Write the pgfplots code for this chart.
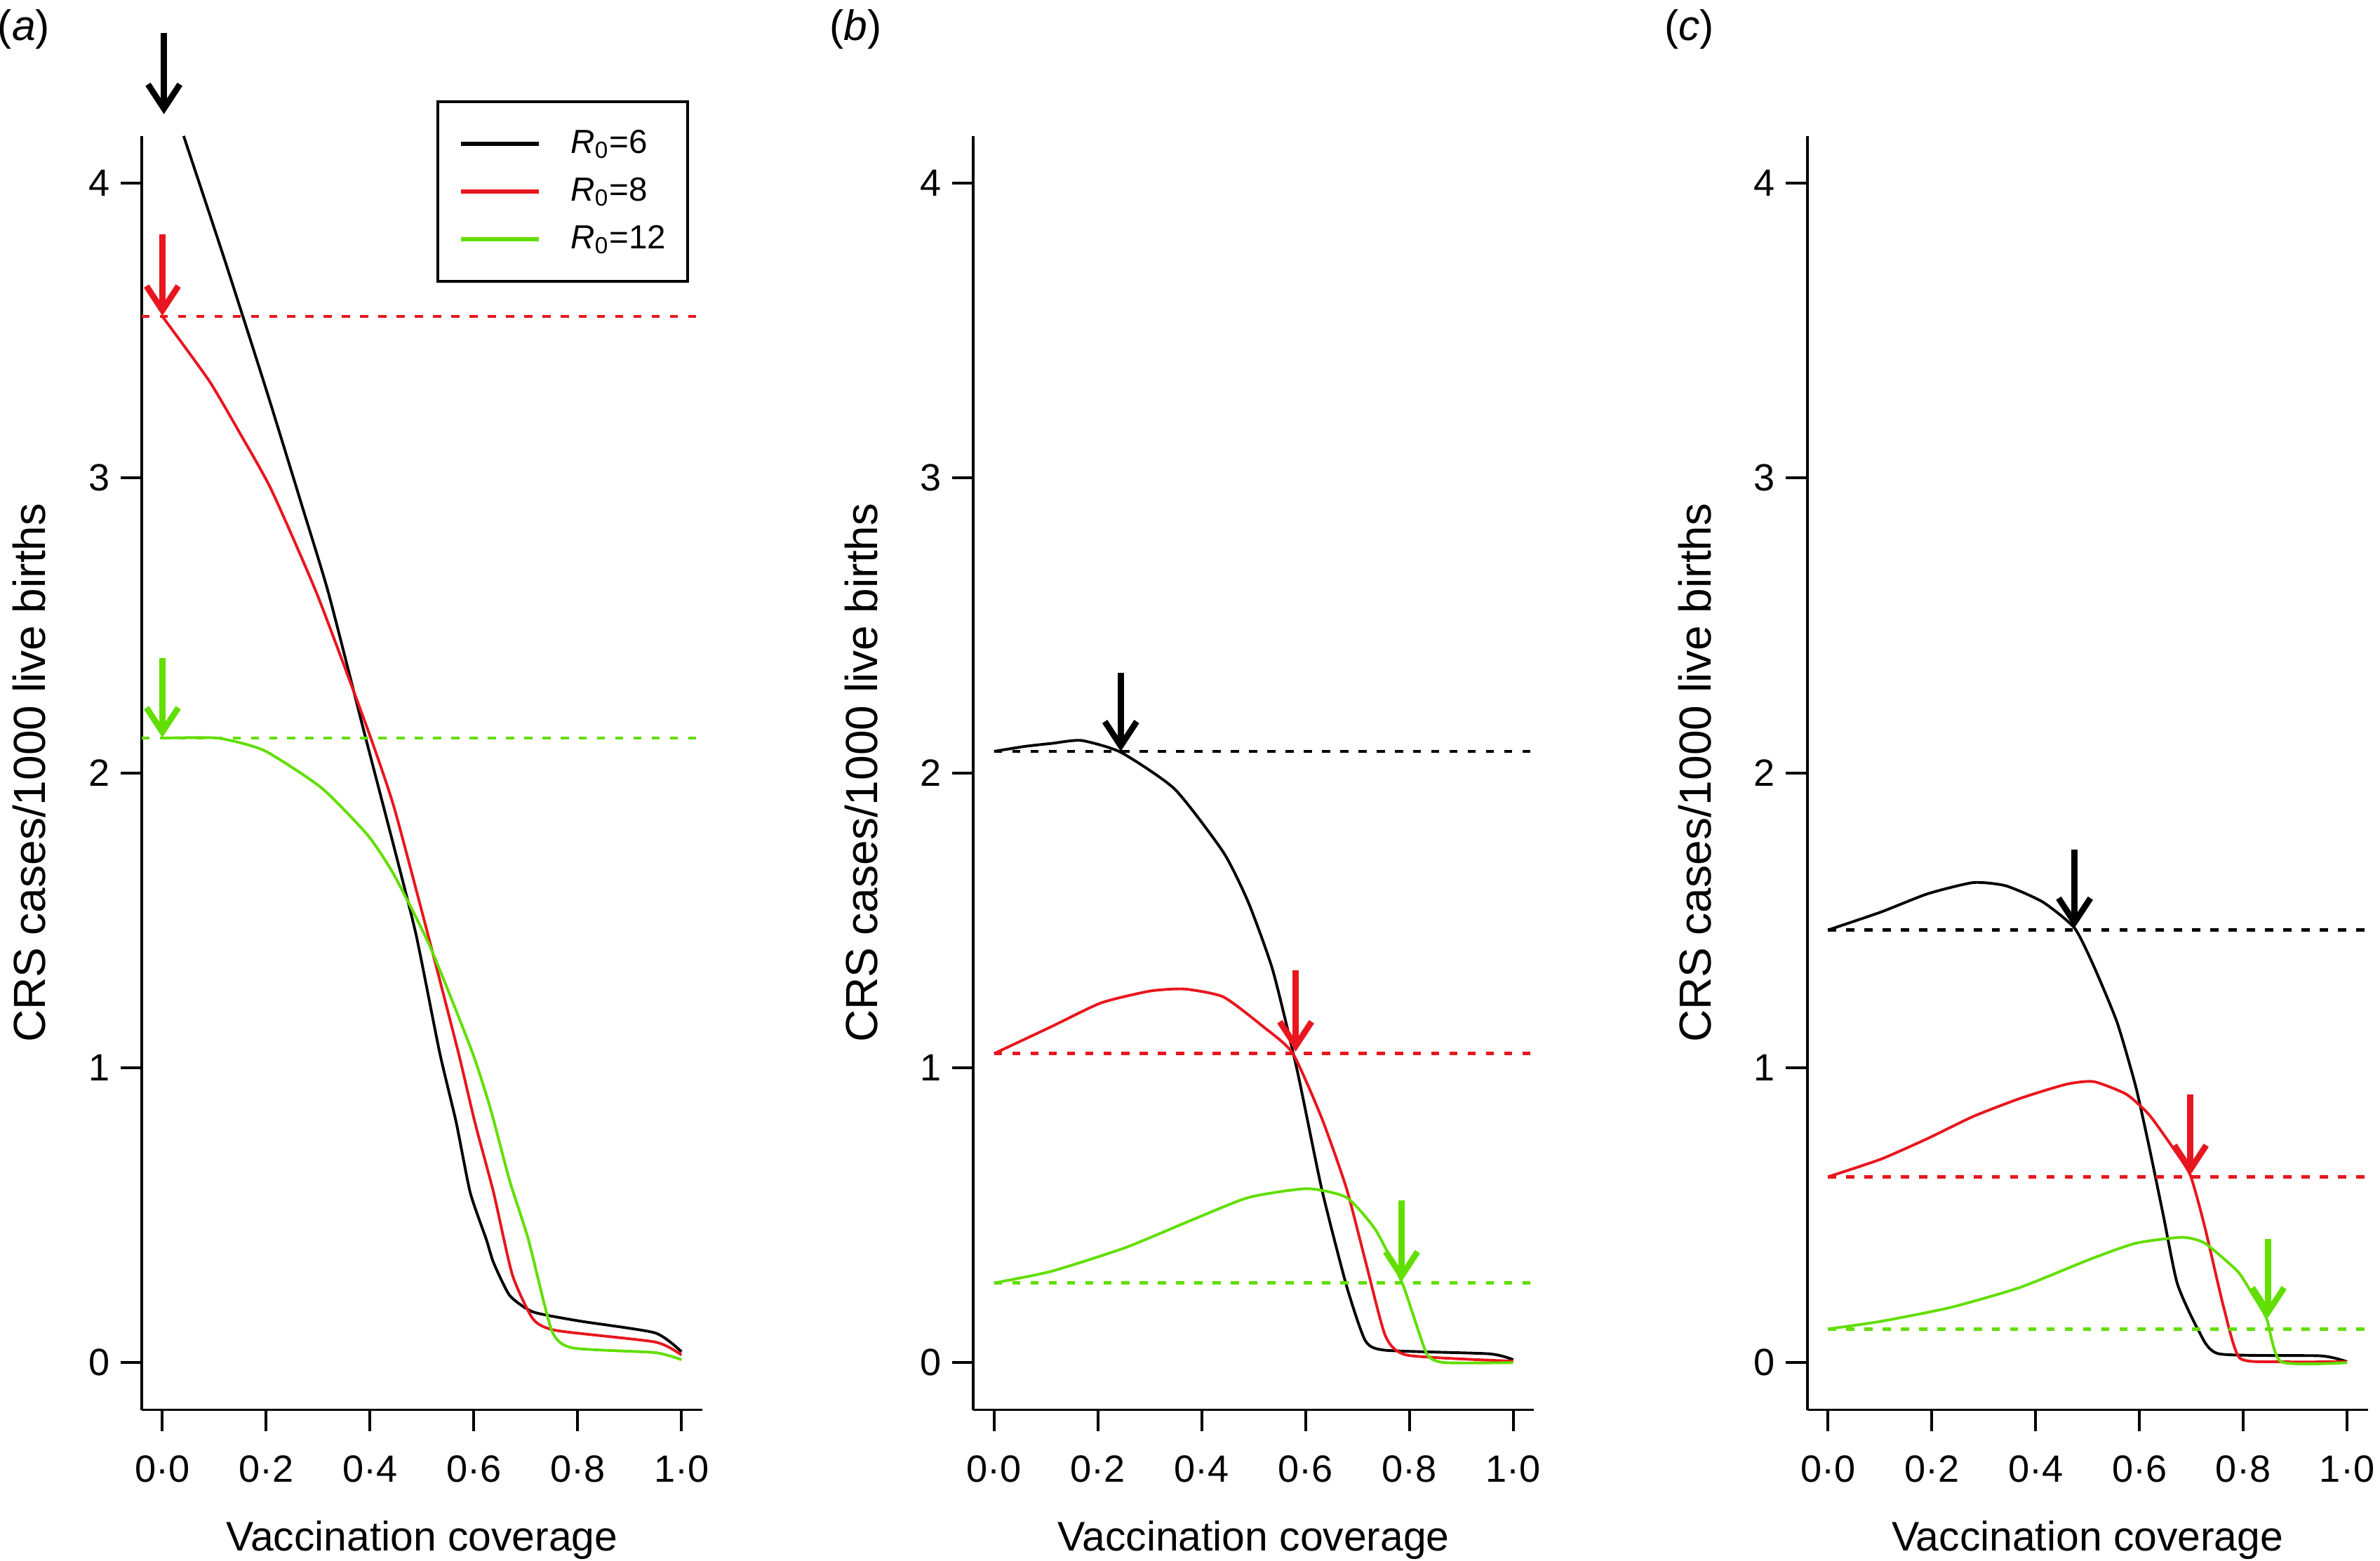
\documentclass[border=0pt]{standalone}
\usepackage{fontspec}
\setmainfont{Liberation Sans}
\usepackage{pgfplots}
\pgfplotsset{compat=1.18}
\usetikzlibrary{arrows.meta}

\definecolor{rline}{RGB}{232,22,30}
\definecolor{gline}{RGB}{98,222,0}

\tikzset{plabel/.style={font=\fontsize{14}{16}\selectfont}}

\pgfplotsset{
  crs/.style={
    scale only axis, width=184.7pt, height=419.7pt,
    xmin=-0.04, xmax=1.04, ymin=-0.16, ymax=4.16,
    axis x line*=bottom, axis y line*=left,
    axis line style={line width=0.9pt,-},
    tick style={line width=0.9pt, black},
    major tick length=7pt, tick align=outside,
    xtick={0,0.2,0.4,0.6,0.8,1},
    xticklabels={0·0,0·2,0·4,0·6,0·8,1·0},
    ytick={0,1,2,3,4},
    /pgf/number format/assume math mode=true,
    tick label style={font=\fontsize{12.5}{14}\selectfont},
    xticklabel style={yshift=-4.5pt},
    xlabel={Vaccination coverage},
    ylabel={CRS cases/1000 live births},
    xlabel style={font=\fontsize{13.6}{16}\selectfont, at={(axis description cs:0.5,-0.1023)}, anchor=center},
    ylabel style={font=\fontsize{14.8}{17}\selectfont, at={(axis description cs:-0.2,0.5)}, anchor=center},
    clip=false,
  },
  curve/.style={line width=0.9pt, smooth, tension=0.35},
  hline/.style={line width=1.1pt, dash pattern=on 2.7pt off 3.3pt},
  marker/.style={line width=2pt, -{Straight Barb[length=8pt,width=10.5pt]}},
}

\begin{document}
\begin{tikzpicture}

% (a)
\begin{axis}[crs, at={(0pt,0pt)}, anchor=south west,
  legend style={at={(axis description cs:0.5258,1.0281)}, anchor=north west,
    draw=black, line width=1pt, inner xsep=7pt, inner ysep=6pt,
    font=\fontsize{11}{13}\selectfont, row sep=0pt, column sep=10pt,
    nodes={inner sep=0pt, minimum height=15.75pt}},
  legend cell align=left,
  legend image code/.code={\draw[#1, line width=1.3pt] (0pt,0pt) -- (25.5pt,0pt);}]
\addplot[black, curve] coordinates {
  (0.041,4.16) (0.12,3.74) (0.2,3.3) (0.27,2.9) (0.32,2.61) (0.387,2.15)
  (0.446,1.75) (0.489,1.449) (0.534,1.053) (0.566,0.815) (0.593,0.577)
  (0.624,0.418) (0.638,0.339) (0.669,0.228) (0.714,0.172) (0.804,0.141)
  (0.949,0.101) (1.0,0.037)};
\addlegendentry{\textit{R}\textsubscript{0}=6}
\addplot[rline, curve] coordinates {
  (0,3.548) (0.09,3.33) (0.15,3.15) (0.21,2.96) (0.298,2.606) (0.395,2.15)
  (0.446,1.885) (0.512,1.449) (0.570,1.053) (0.602,0.815) (0.638,0.577)
  (0.674,0.299) (0.714,0.148) (0.759,0.109) (0.949,0.07) (1.0,0.026)};
\addlegendentry{\textit{R}\textsubscript{0}=8}
\addplot[gline, curve] coordinates {
  (0,2.118) (0.107,2.118) (0.196,2.076) (0.306,1.95) (0.395,1.79) (0.446,1.655)
  (0.516,1.41) (0.597,1.053) (0.633,0.855) (0.669,0.617) (0.705,0.418)
  (0.750,0.109) (0.790,0.05) (0.949,0.034) (1.0,0.01)};
\addlegendentry{\textit{R}\textsubscript{0}=12}
\addplot[rline, hline, forget plot] coordinates {(-0.04,3.548) (1.034,3.548)};
\addplot[gline, hline, forget plot] coordinates {(-0.04,2.118) (1.034,2.118)};
\addplot[black, marker, forget plot] coordinates {(0.003,4.51) (0.003,4.234)};
\addplot[rline, marker, forget plot] coordinates {(0,3.827) (0,3.55)};
\addplot[gline, marker, forget plot] coordinates {(0,2.39) (0,2.12)};
\node[plabel] at (axis description cs:-0.21,1.0835) {(\textit{a})};
\end{axis}

% (b)
\begin{axis}[crs, at={(274.0pt,0pt)}, anchor=south west]
\addplot[black, curve] coordinates {
  (0,2.073) (0.06,2.09) (0.111,2.10) (0.168,2.11) (0.244,2.07) (0.348,1.945)
  (0.442,1.73) (0.49,1.56) (0.537,1.33) (0.584,0.99) (0.631,0.59) (0.679,0.26)
  (0.715,0.075) (0.754,0.042) (0.953,0.03) (1.0,0.01)};
\addplot[rline, curve] coordinates {
  (0,1.048) (0.111,1.14) (0.206,1.22) (0.30,1.26) (0.367,1.267) (0.442,1.24)
  (0.518,1.14) (0.575,1.05) (0.631,0.83) (0.679,0.59) (0.716,0.34) (0.754,0.09)
  (0.797,0.025) (1.0,0.005)};
\addplot[gline, curve] coordinates {
  (0,0.27) (0.111,0.31) (0.253,0.39) (0.376,0.48) (0.49,0.56) (0.603,0.59)
  (0.679,0.56) (0.735,0.45) (0.785,0.275) (0.811,0.142) (0.835,0.025)
  (0.868,0.0) (1.0,0.0)};
\addplot[black, hline] coordinates {(0,2.073) (1.038,2.073)};
\addplot[rline, hline] coordinates {(0,1.048) (1.038,1.048)};
\addplot[gline, hline] coordinates {(0,0.27) (1.038,0.27)};
\addplot[black, marker] coordinates {(0.244,2.34) (0.244,2.073)};
\addplot[rline, marker] coordinates {(0.581,1.33) (0.581,1.055)};
\addplot[gline, marker] coordinates {(0.785,0.55) (0.785,0.275)};
\node[plabel] at (axis description cs:-0.21,1.0835) {(\textit{b})};
\end{axis}

% (c)
\begin{axis}[crs, at={(548.7pt,0pt)}, anchor=south west]
\addplot[black, curve] coordinates {
  (0,1.467) (0.102,1.528) (0.192,1.59) (0.28,1.628) (0.343,1.617) (0.414,1.562)
  (0.475,1.474) (0.512,1.345) (0.557,1.154) (0.593,0.936) (0.619,0.73)
  (0.646,0.5) (0.673,0.268) (0.713,0.112) (0.753,0.03) (0.949,0.023) (1.0,0.003)};
\addplot[rline, curve] coordinates {
  (0,0.63) (0.102,0.69) (0.192,0.76) (0.28,0.835) (0.37,0.896) (0.459,0.944)
  (0.512,0.953) (0.575,0.91) (0.619,0.84) (0.664,0.73) (0.698,0.636)
  (0.726,0.46) (0.762,0.19) (0.793,0.016) (0.869,0.003) (1.0,0.003)};
\addplot[gline, curve] coordinates {
  (0,0.114) (0.102,0.14) (0.236,0.187) (0.37,0.255) (0.504,0.35) (0.593,0.405)
  (0.682,0.425) (0.726,0.405) (0.789,0.31) (0.815,0.24) (0.845,0.15)
  (0.873,0.003) (1.0,0.0)};
\addplot[black, hline] coordinates {(0,1.467) (1.04,1.467)};
\addplot[rline, hline] coordinates {(0,0.63) (1.04,0.63)};
\addplot[gline, hline] coordinates {(0,0.114) (1.04,0.114)};
\addplot[black, marker] coordinates {(0.475,1.74) (0.475,1.474)};
\addplot[rline, marker] coordinates {(0.698,0.909) (0.698,0.636)};
\addplot[gline, marker] coordinates {(0.848,0.419) (0.848,0.153)};
\node[plabel] at (axis description cs:-0.21,1.0835) {(\textit{c})};
\end{axis}

\pgfresetboundingbox
\path (-46.65pt,-49.8pt) rectangle (737.42pt,464.5pt);
\end{tikzpicture}
\end{document}
